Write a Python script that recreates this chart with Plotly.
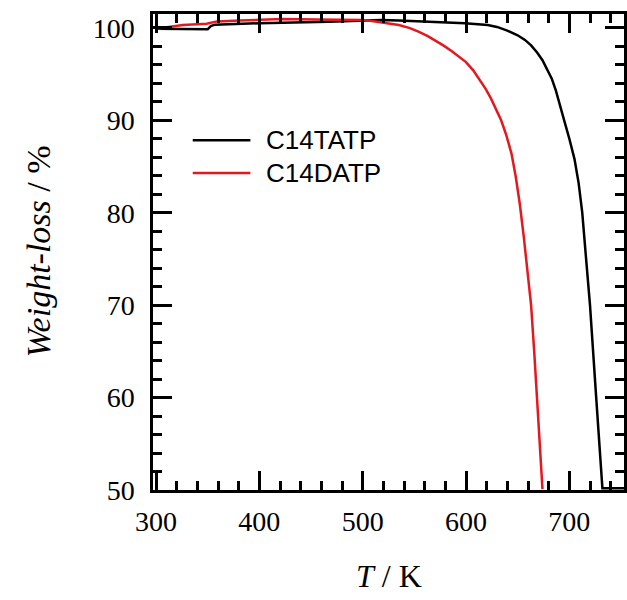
import plotly.graph_objects as go

# C14TATP (black)
t_tatp = [300, 350, 353, 357, 400, 467, 518, 535, 599, 621, 630, 640, 650, 657, 663, 669, 674, 679, 683, 687, 691, 695, 700, 705, 709, 712.5, 716, 720, 726, 732, 753]
w_tatp = [99.9, 99.85, 100.2, 100.35, 100.5, 100.65, 100.85, 100.8, 100.5, 100.3, 100.1, 99.7, 99.2, 98.7, 98.1, 97.3, 96.5, 95.4, 94.5, 93.2, 91.7, 90.0, 88.0, 85.8, 83.2, 80.0, 75.3, 70.0, 60.0, 50.2, 50.2]

# C14DATP (red)
t_datp = [300, 326, 349, 359, 381, 422, 455, 499, 509, 522, 535, 545, 554, 563, 571, 578, 586, 593, 600, 607, 614, 619, 624, 629, 634, 639, 644, 648, 652, 656, 660, 663, 666, 669, 672, 674]
w_datp = [99.9, 100.3, 100.45, 100.7, 100.8, 100.95, 100.9, 100.85, 100.75, 100.55, 100.3, 100.0, 99.6, 99.1, 98.6, 98.1, 97.5, 96.9, 96.3, 95.4, 94.3, 93.4, 92.4, 91.2, 90.0, 88.4, 86.4, 84.0, 81.0, 77.3, 73.5, 70.0, 65.0, 59.6, 54.0, 50.1]

series_names = ["C14TATP", "C14DATP"]
series_colors = ["#000000", "#e3191f"]

x_ticks = [300, 400, 500, 600, 700]
y_ticks = [50, 60, 70, 80, 90, 100]

fig = go.Figure()
fig.add_trace(go.Scatter(x=t_tatp, y=w_tatp, mode="lines", name=series_names[0],
                         line=dict(color=series_colors[0], width=2.5), showlegend=False))
fig.add_trace(go.Scatter(x=t_datp, y=w_datp, mode="lines", name=series_names[1],
                         line=dict(color=series_colors[1], width=2.5), showlegend=False))

serif = "Liberation Serif, Times New Roman, serif"
axis_common = dict(showline=True, linecolor="black", linewidth=2.5, mirror="allticks",
                   ticks="inside", ticklen=19, tickwidth=2.5, tickcolor="black",
                   showgrid=False, zeroline=False,
                   tickfont=dict(family=serif, size=28, color="black"))

fig.update_xaxes(range=[297.1, 752.9], tickvals=x_ticks, ticklabelstandoff=5,
                 minor=dict(dtick=20, ticks="inside", ticklen=9, tickwidth=2.5, tickcolor="black"),
                 **axis_common)
fig.update_yaxes(range=[50, 101.5], tickvals=y_ticks, ticklabelstandoff=10,
                 minor=dict(dtick=2, ticks="inside", ticklen=9, tickwidth=2.5, tickcolor="black"),
                 **axis_common)

# legend drawn manually
legend_y = [0.735, 0.666]
for i, (nm, col) in enumerate(zip(series_names, series_colors)):
    fig.add_shape(type="line", xref="paper", yref="paper",
                  x0=(193 - 153) / 474, x1=(251 - 153) / 474,
                  y0=legend_y[i], y1=legend_y[i], line=dict(color=col, width=2.5))
    fig.add_annotation(xref="paper", yref="paper", x=(265 - 153) / 474, y=legend_y[i],
                       xanchor="left", yanchor="middle", showarrow=False, text=nm,
                       font=dict(family="Liberation Sans, Arial, sans-serif", size=26, color="black"))

fig.add_annotation(xref="paper", yref="paper", x=0.5, y=-0.18, yanchor="middle", showarrow=False,
                   text="<i>T</i> / K", font=dict(family=serif, size=32, color="black"))
fig.add_annotation(xref="paper", yref="paper", x=-0.245, y=0.5, xanchor="center", yanchor="middle",
                   showarrow=False, textangle=-90, text="<i>Weight-loss</i> / %",
                   font=dict(family=serif, size=34, color="black"))

fig.update_layout(width=627, height=600, margin=dict(l=153, r=0, t=14, b=110),
                  plot_bgcolor="white", paper_bgcolor="white")

fig.write_html("out.html")
